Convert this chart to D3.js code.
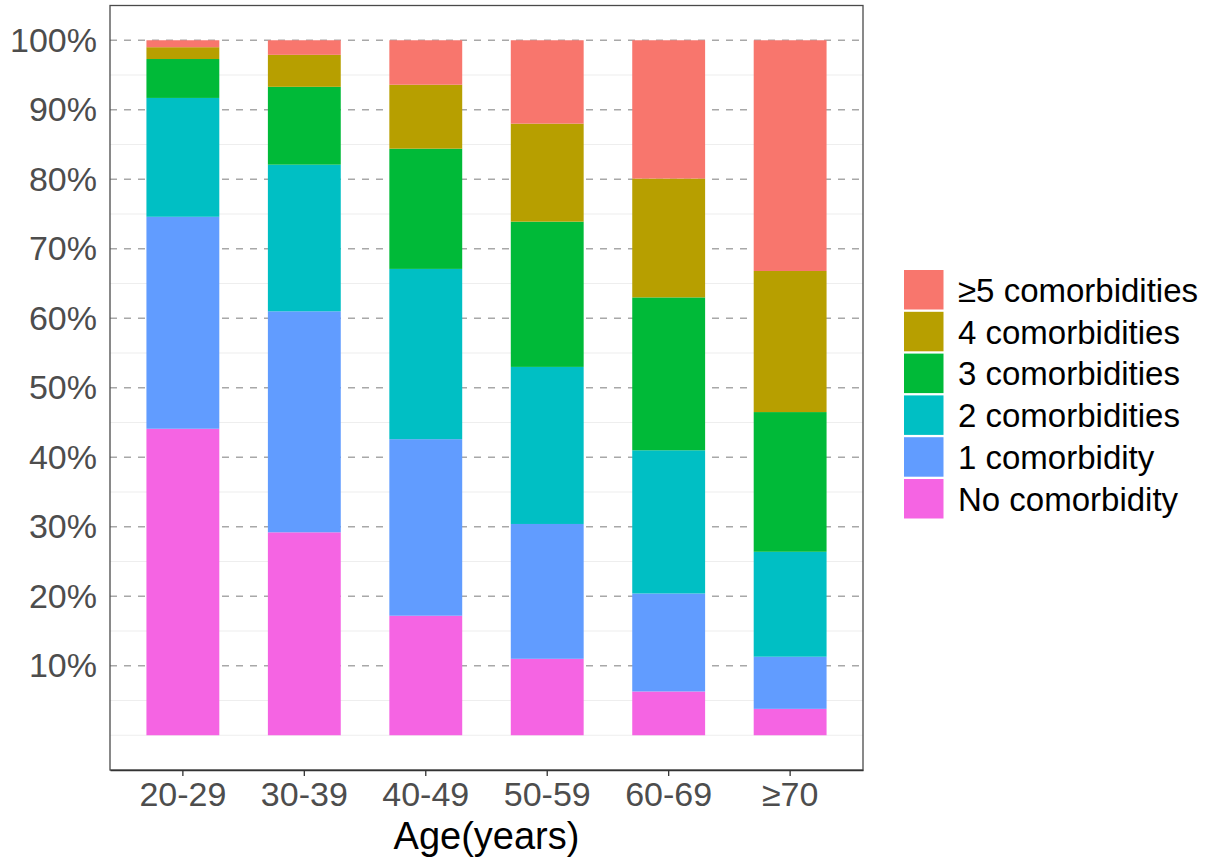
<!DOCTYPE html>
<html>
<head>
<meta charset="utf-8">
<script src="https://cdn.jsdelivr.net/npm/d3@7"></script>
<style>
  html, body { margin: 0; padding: 0; background: #fff; }
  svg { display: block; font-family: "Liberation Sans", Arial, sans-serif; }
</style>
</head>
<body>
<svg id="chart" width="1206" height="859"></svg>
<script>
// ---- data (percent of each age group) ----
const ageGroups = ["20-29", "30-39", "40-49", "50-59", "60-69", "≥70"];
const seriesNames = ["No comorbidity", "1 comorbidity", "2 comorbidities", "3 comorbidities", "4 comorbidities", "≥5 comorbidities"];
const noComorbidity   = [44.1, 29.2, 17.2, 11.0, 6.3, 3.8];
const oneComorbidity  = [30.5, 31.8, 25.4, 19.4, 14.1, 7.5];
const twoComorbidities   = [17.1, 21.1, 24.5, 22.6, 20.6, 15.1];
const threeComorbidities = [5.6, 11.2, 17.3, 20.9, 22.0, 20.1];
const fourComorbidities  = [1.7, 4.6, 9.2, 14.1, 17.1, 20.3];
const fivePlusComorbidities = [1.0, 2.1, 6.4, 12.0, 19.9, 33.2];
const seriesColors = ["#F564E3", "#619CFF", "#00BFC4", "#00BA38", "#B79F00", "#F8766D"];
const yTicks = [0.1, 0.2, 0.3, 0.4, 0.5, 0.6, 0.7, 0.8, 0.9, 1.0];
const yMinorTicks = [0, 0.05, 0.15, 0.25, 0.35, 0.45, 0.55, 0.65, 0.75, 0.85, 0.95];
const xTitle = "Age(years)";

// ---- build table ----
const seriesValues = [noComorbidity, oneComorbidity, twoComorbidities, threeComorbidities, fourComorbidities, fivePlusComorbidities];
const table = ageGroups.map((g, i) => {
  const row = { group: g };
  seriesNames.forEach((s, j) => { row[s] = seriesValues[j][i] / 100; });
  return row;
});
const stacked = d3.stack().keys(seriesNames)(table);

// ---- layout ----
const svg = d3.select("#chart");
const panel = { left: 110, right: 863, top: 5.5, bottom: 770 };

const x = d3.scaleBand()
  .domain(ageGroups)
  .range([panel.left, panel.right])
  .paddingInner(0.4)
  .paddingOuter(0.3);

const y = d3.scaleLinear()
  .domain([-0.05, 1.05])
  .range([panel.bottom, panel.top]);

const color = d3.scaleOrdinal().domain(seriesNames).range(seriesColors);

// minor grid
svg.append("g").selectAll("line").data(yMinorTicks).join("line")
  .attr("x1", panel.left).attr("x2", panel.right)
  .attr("y1", d => y(d)).attr("y2", d => y(d))
  .attr("stroke", "#eeeeee").attr("stroke-width", 1.1);

// major grid (dashed)
svg.append("g").selectAll("line").data(yTicks).join("line")
  .attr("x1", panel.left).attr("x2", panel.right)
  .attr("y1", d => y(d)).attr("y2", d => y(d))
  .attr("stroke", "#a8a8a8").attr("stroke-width", 1.6)
  .attr("stroke-dasharray", "7,7");

// bars
svg.append("g").selectAll("g").data(stacked).join("g")
  .attr("fill", d => color(d.key))
  .selectAll("rect").data(d => d).join("rect")
  .attr("x", d => x(d.data.group))
  .attr("width", x.bandwidth())
  .attr("y", d => y(d[1]))
  .attr("height", d => y(d[0]) - y(d[1]));

// panel border
svg.append("rect")
  .attr("x", panel.left).attr("y", panel.top)
  .attr("width", panel.right - panel.left).attr("height", panel.bottom - panel.top)
  .attr("fill", "none").attr("stroke", "#4a4a4a").attr("stroke-width", 1.3);

// x axis
const xAxis = d3.axisBottom(x).tickSizeInner(6).tickSizeOuter(0).tickPadding(6);
const gx = svg.append("g").attr("transform", `translate(0,${panel.bottom})`).call(xAxis);
gx.select(".domain").attr("stroke", "#333").attr("stroke-width", 1.6);
gx.selectAll(".tick line").attr("stroke", "#333").attr("stroke-width", 1.3);
gx.selectAll(".tick text")
  .attr("fill", "#4d4d4d")
  .attr("font-size", 34)
  .attr("font-family", "Liberation Sans, Arial, sans-serif")
  .attr("dy", "0.71em");

// y axis
const yAxis = d3.axisLeft(y).tickValues(yTicks).tickSize(0).tickPadding(13)
  .tickFormat(d3.format(".0%"));
const gy = svg.append("g").attr("transform", `translate(${panel.left},0)`).call(yAxis);
gy.select(".domain").remove();
gy.selectAll(".tick text")
  .attr("fill", "#4d4d4d")
  .attr("font-size", 34)
  .attr("font-family", "Liberation Sans, Arial, sans-serif");

// x title
svg.append("text")
  .attr("x", (panel.left + panel.right) / 2)
  .attr("y", 849)
  .attr("text-anchor", "middle")
  .attr("font-size", 38)
  .attr("fill", "#000")
  .text(xTitle);

// legend (reverse order: top is ≥5)
const legendItems = seriesNames.slice().reverse();
const legendTop = 270, keyPitch = 41.8, keyW = 39.5, keyH = 39.5, legendX = 904;
const lg = svg.append("g");
const li = lg.selectAll("g").data(legendItems).join("g")
  .attr("transform", (d, i) => `translate(${legendX},${legendTop + i * keyPitch})`);
li.append("rect")
  .attr("width", keyW).attr("height", keyH)
  .attr("fill", d => color(d));
li.append("text")
  .attr("x", 54)
  .attr("y", keyH / 2 + 12)
  .attr("font-size", 33)
  .attr("fill", "#000")
  .text(d => d);
</script>
</body>
</html>
